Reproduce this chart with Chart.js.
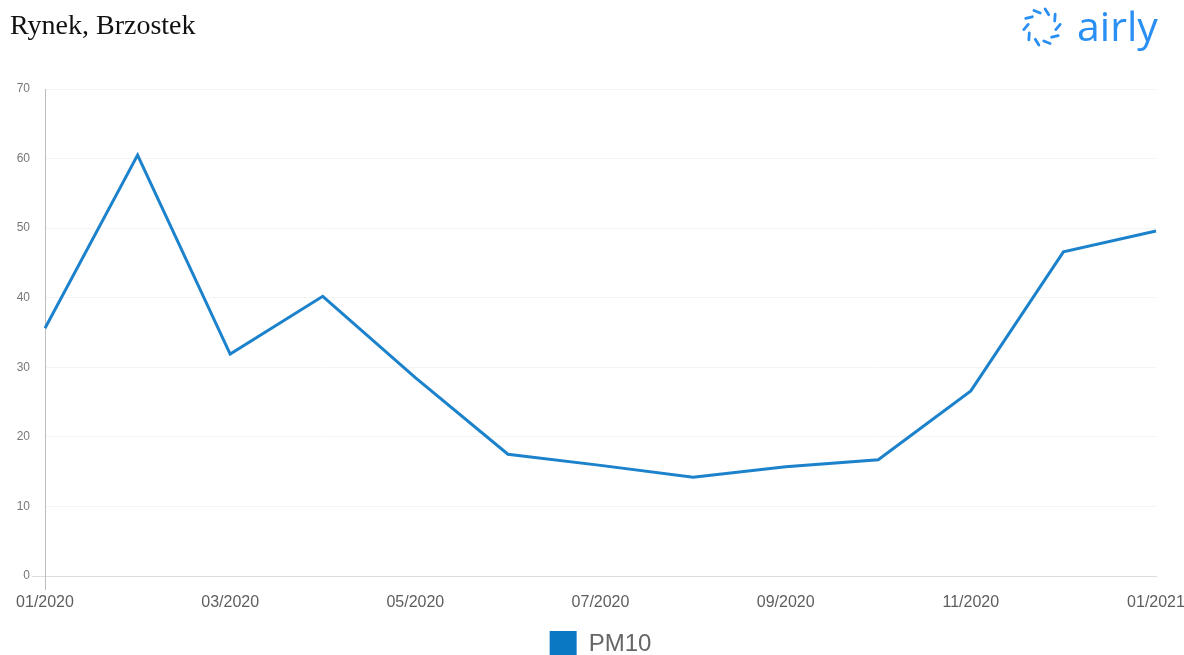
<!DOCTYPE html>
<html>
<head>
<meta charset="utf-8">
<script src="https://cdn.jsdelivr.net/npm/chart.js@4"></script>
<style>
  html, body { margin: 0; padding: 0; background: #fff; overflow: hidden; }
  #wrap { position: relative; width: 1184px; height: 655px; overflow: hidden; }
  #title { position: absolute; left: 10px; top: 9px; font-family: "Liberation Serif", serif; font-size: 28px; color: #111; }
  #logo { position: absolute; left: 1020px; top: 2px; }
  #chart-box { position: absolute; left: 0; top: 0; width: 1184px; height: 670px; }
</style>
</head>
<body>
<div id="wrap">
  <div id="chart-box"><canvas id="line-chart"></canvas></div>
  <div id="title">Rynek, Brzostek</div>
  <svg id="logo" width="160" height="52" viewBox="0 0 160 52">
    <g stroke="#2a8ff2" stroke-width="2.8" stroke-linecap="round" fill="none" id="dashes"></g>
    <text x="57" y="39" font-family="Open Sans, sans-serif" font-weight="400" font-size="41" fill="#2a8ff2">airly</text>
  </svg>
</div>
<script>
// logo: short tilted strokes round a circle
const g = document.getElementById("dashes");
for (let k = 0; k < 10; k++) {
    const a = (-72 + k * 36) * Math.PI / 180;
    const cx = 22, cy = 25, r = 16, half = 3.4, tilt = 0.7;
    const px = cx + r * Math.cos(a), py = cy + r * Math.sin(a);
    const d = a + Math.PI / 2 + tilt;
    const l = document.createElementNS("http://www.w3.org/2000/svg", "line");
    l.setAttribute("x1", px - half * Math.cos(d));
    l.setAttribute("y1", py - half * Math.sin(d));
    l.setAttribute("x2", px + half * Math.cos(d));
    l.setAttribute("y2", py + half * Math.sin(d));
    g.appendChild(l);
}

const months = ['01/2020', '02/2020', '03/2020', '04/2020', '05/2020', '06/2020', '07/2020',
                '08/2020', '09/2020', '10/2020', '11/2020', '12/2020', '01/2021'];
const pm10 = [35.6, 60.5, 31.9, 40.2, 28.5, 17.5, 15.9, 14.2, 15.7, 16.7, 26.6, 46.6, 49.6];
const yTicks = [0, 10, 20, 30, 40, 50, 60, 70];

const ctx = document.getElementById("line-chart");

const config = {
    type: 'line',
    data: {
        labels: months,
        datasets: [{
            label: 'PM10',
            data: pm10,
            borderColor: '#1b82cb',
            backgroundColor: '#0a78c2',
            borderWidth: 3,
            pointRadius: 0,
            tension: 0,
            fill: false
        }]
    },
    options: {
        responsive: true,
        maintainAspectRatio: false,
        animation: false,
        layout: {
            padding: { top: 89, right: 28, left: 0, bottom: 2 }
        },
        plugins: {
            tooltip: { enabled: false },
            legend: {
                position: 'bottom',
                fullSize: false,
                labels: {
                    boxWidth: 27,
                    boxHeight: 27,
                    padding: 10,
                    color: '#666',
                    font: { family: 'Liberation Sans, Arial', size: 24 },
                    generateLabels: chart => Chart.defaults.plugins.legend.labels.generateLabels(chart)
                        .map(item => Object.assign(item, { lineWidth: 0, strokeStyle: item.fillStyle }))
                }
            }
        },
        scales: {
            x: {
                offset: false,
                afterFit: s => { s.height = 45; s.paddingLeft = 0; s.paddingRight = 0; },
                border: { display: true, color: '#dcdcdc', width: 1 },
                grid: {
                    drawOnChartArea: false,
                    drawTicks: true,
                    tickLength: 14,
                    color: c => c.index === 0 ? '#bdbdbd' : 'rgba(0,0,0,0)'
                },
                ticks: {
                    autoSkip: false,
                    maxRotation: 0,
                    padding: 3,
                    color: '#5e5e5e',
                    font: { family: 'Liberation Sans, Arial', size: 16 },
                    callback: function (val, i) { return i % 2 === 0 ? this.getLabelForValue(val) : ''; }
                }
            },
            y: {
                min: 0,
                max: 70,
                afterFit: s => { s.width = 45; },
                afterBuildTicks: s => { s.ticks = yTicks.map(v => ({ value: v })); },
                border: { display: true, color: '#bdbdbd', width: 1 },
                grid: {
                    tickLength: 13,
                    color: c => c.tick && c.tick.value === 0 ? '#dcdcdc' : '#f4f4f4',
                    tickColor: c => c.tick && c.tick.value === 0 ? '#dcdcdc' : 'rgba(0,0,0,0)'
                },
                ticks: {
                    padding: 2,
                    color: '#777',
                    font: { family: 'Liberation Sans, Arial', size: 12 }
                }
            }
        }
    }
};

const chart = new Chart(ctx, config);
</script>
</body>
</html>
